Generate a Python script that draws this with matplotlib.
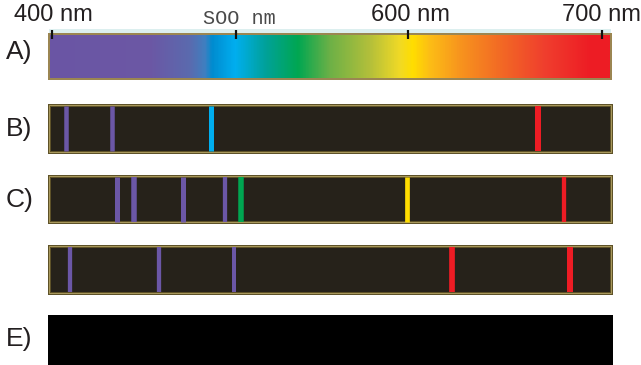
import numpy as np
import matplotlib
matplotlib.use('Agg')
import matplotlib.pyplot as plt
from matplotlib.colors import LinearSegmentedColormap, Normalize
from matplotlib.patches import Rectangle

# ---------------- data ----------------
tick_nm = [400, 500, 600, 700]
tick_labels = ['400 nm', 'SOO nm', '600 nm', '700 nm']
row_labels = ['A)', 'B)', 'C)', '', 'E)']

PURPLE = '#6b57a6'
CYAN = '#00aeef'
RED = '#ed1c24'
GREEN = '#00a651'
YELLOW = '#ffdd00'

lines_B_nm = [407.4, 432.4, 486.3, 666.9]
colors_B = [PURPLE, PURPLE, CYAN, RED]
lines_C_nm = [435.5, 444.7, 471.2, 493.9, 503.1, 599.4, 680.3]
colors_C = [PURPLE, PURPLE, PURPLE, PURPLE, GREEN, YELLOW, RED]
lines_D_nm = [409.8, 458.2, 498.8, 622.7, 683.7]
colors_D = [PURPLE, PURPLE, PURPLE, RED, RED]

gradient_nm = [398.9, 453.3, 475.0, 483.2, 487.0, 499.5, 516.9, 536.0, 554.7,
               577.9, 595.3, 602.6, 611.3, 626.8, 647.4, 670.6, 693.8, 705.2]
gradient_colors = ['#6a55a4', '#6b57a4', '#5a6aae', '#3e7fc0', '#008bcf', '#00aeef',
                   '#00a19a', '#00a651', '#6cb046', '#b3bf3a', '#f0d925', '#ffdd00',
                   '#fcbd15', '#f7941d', '#f26a24', '#ef3e2d', '#ed1c24', '#ed1c24']

# line widths in pixels (style)
widths_B = [4.5, 4.5, 5, 6]
widths_C = [5, 5.5, 5, 4.3, 5.5, 4.7, 4.3]
widths_D = [4.3, 4.3, 4, 5.7, 6]

# ---------------- scale (non-uniform axis of the original) ----------------
px_anchor = [52, 236, 408, 602]
nm_ext = [-1e4] + tick_nm + [1e4]
px_ext = [52 + (-1e4 - 400) * 1.84] + px_anchor + [602 + (1e4 - 700) * 1.94]


def fwd(x):
    return np.interp(np.asarray(x, float), nm_ext, px_ext)


def inv(p):
    return np.interp(np.asarray(p, float), px_ext, nm_ext)


W, H = 641, 365
fig = plt.figure(figsize=(W / 100, H / 100), dpi=100)
ax = fig.add_axes([0, 0, 1, 1])
ax.set_xscale('function', functions=(fwd, inv))
ax.set_xlim(float(inv(0)), float(inv(W)))
ax.set_ylim(H, 0)
ax.axis('off')


def pt(p):
    return p * 72 / 100


bar_l, bar_r = float(inv(49.5)), float(inv(611.5))

# ---------------- A: continuous spectrum ----------------
ax.add_patch(Rectangle((bar_l, 29), bar_r - bar_l, 5, facecolor='#dcefef',
                       edgecolor='none', zorder=1))
pos = [(g - gradient_nm[0]) / (gradient_nm[-1] - gradient_nm[0]) for g in gradient_nm]
cmap = LinearSegmentedColormap.from_list('spec', list(zip(pos, gradient_colors)), N=1024)
xe = np.linspace(gradient_nm[0], gradient_nm[-1], 700)
xc = (xe[:-1] + xe[1:]) / 2
ax.pcolormesh(xe, [34, 79], xc[None, :], cmap=cmap,
              norm=Normalize(gradient_nm[0], gradient_nm[-1]),
              shading='flat', antialiased=False, edgecolors='none', zorder=2)
ax.add_patch(Rectangle((bar_l, 34), bar_r - bar_l, 45, facecolor='none',
                       edgecolor='#9b8652', linewidth=pt(2), zorder=3))
ax.vlines(tick_nm, 30, 39, color='#111111', linewidth=pt(2.2), zorder=4)

# ---------------- dark emission bars ----------------
rows = [(105, 151.5, lines_B_nm, colors_B, widths_B),
        (176, 222, lines_C_nm, colors_C, widths_C),
        (246, 292.5, lines_D_nm, colors_D, widths_D)]
for top, bot, lnm, lcol, lw in rows:
    ax.add_patch(Rectangle((bar_l, top - 1), bar_r - bar_l, bot - top + 2,
                           facecolor='none', edgecolor='#d6eaea',
                           linewidth=pt(1), zorder=1))
    ax.add_patch(Rectangle((bar_l, top), bar_r - bar_l, bot - top,
                           facecolor='#26221a', edgecolor='#5e5228',
                           linewidth=pt(3), zorder=2))
    ax.add_patch(Rectangle((bar_l, top), bar_r - bar_l, bot - top,
                           facecolor='none', edgecolor='#a8985c',
                           linewidth=pt(1), zorder=3))
    for x, c, w in zip(lnm, lcol, lw):
        ax.vlines(x, top + 0.5, bot - 0.5, color=c, linewidth=pt(w), zorder=4)

# ---------------- E: black bar ----------------
ax.add_patch(Rectangle((float(inv(48)), 315), float(inv(613)) - float(inv(48)), 52,
                       facecolor='black', edgecolor='none', zorder=2))

# ---------------- text ----------------
label_y = [52, 129, 200, 269, 339]
for lab, y in zip(row_labels, label_y):
    ax.text(5.5 / W, y, lab, transform=ax.get_yaxis_transform(), ha='left', va='center',
            fontsize=19, color='#231f20', family='Liberation Sans')

tick_y = [15, 18, 15, 15]
tick_x_off = [1, 3, 2, -1]
for x, lab, y, off in zip(tick_nm, tick_labels, tick_y, tick_x_off):
    xx = float(inv(fwd(x) + off))
    if lab.startswith('S'):
        ax.text(xx, y, lab, ha='center', va='center', fontsize=14.6,
                color='#4a4a4a', family='Liberation Mono')
    else:
        ax.text(xx, y, lab, ha='center', va='center', fontsize=17,
                color='#231f20', family='Liberation Sans')

fig.savefig('out.png', dpi=100)
